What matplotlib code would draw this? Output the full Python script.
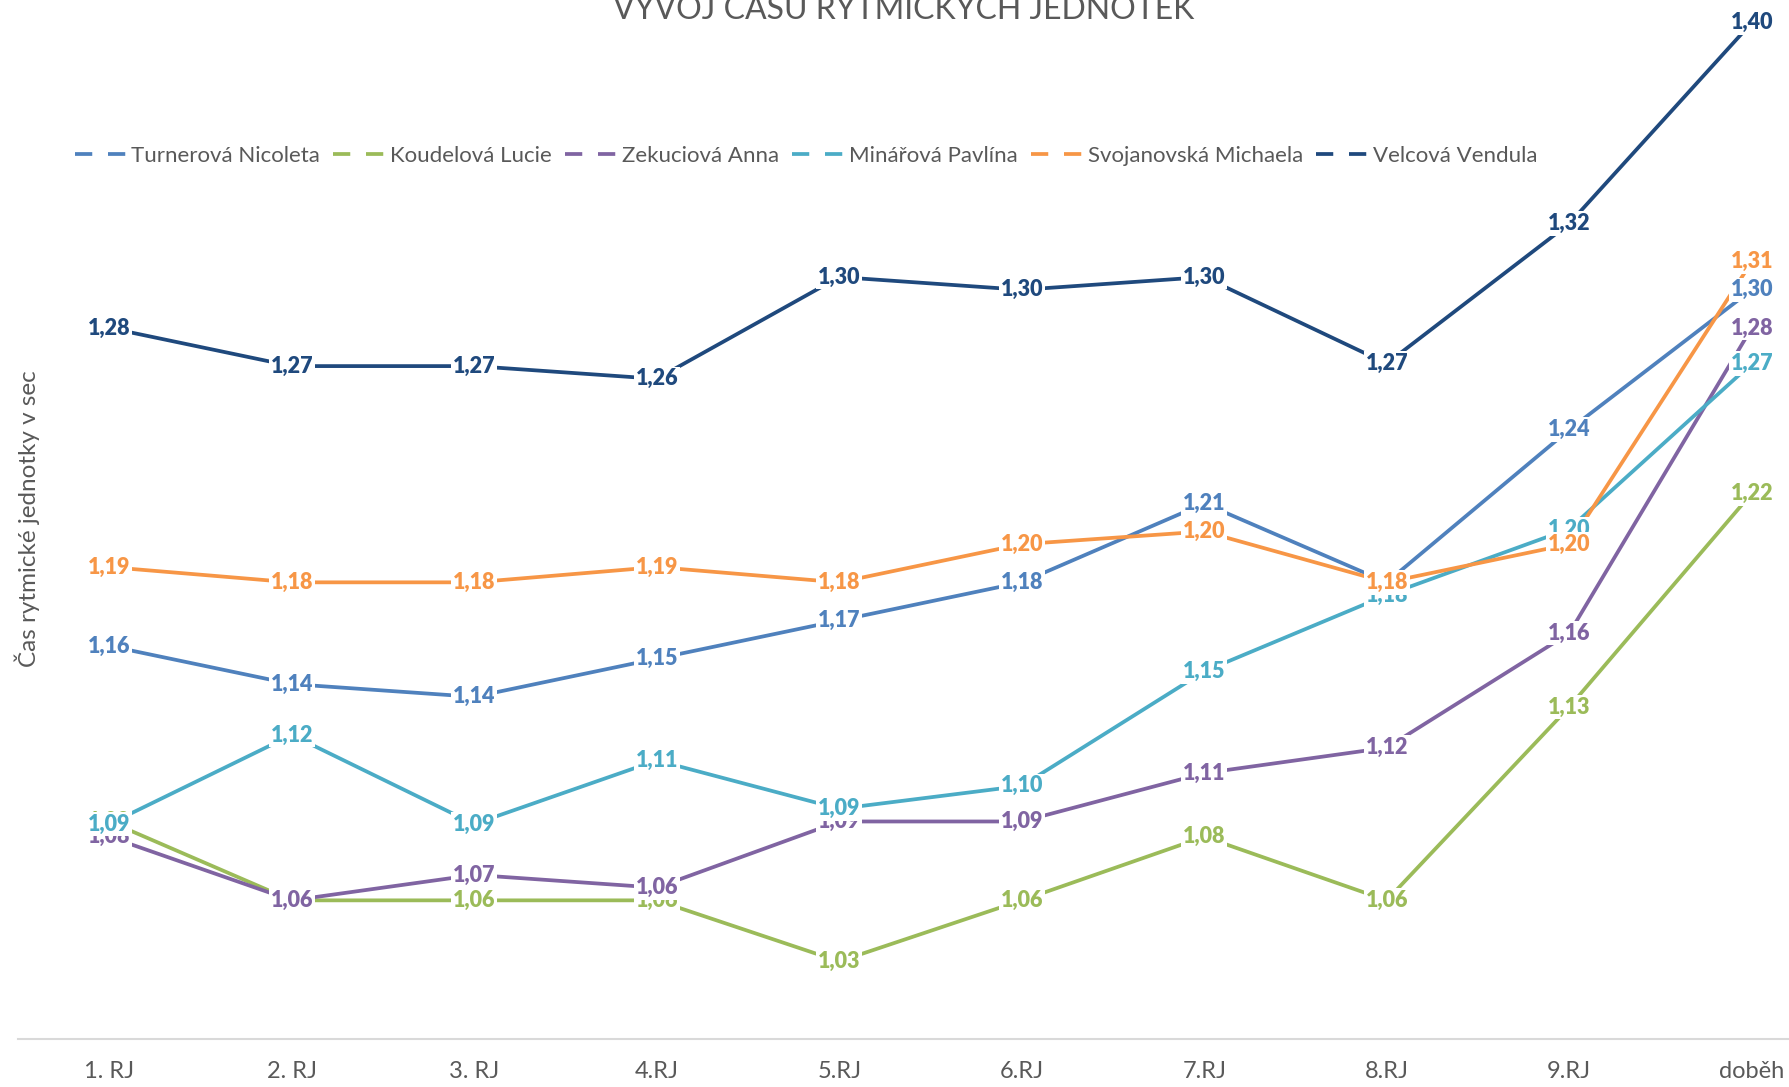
import matplotlib

matplotlib.use('Agg')
import matplotlib.pyplot as plt
from matplotlib.lines import Line2D

plt.rcParams['font.family'] = ['Lato', 'DejaVu Sans']

categories = ['1. RJ', '2. RJ', '3. RJ', '4.RJ', '5.RJ', '6.RJ', '7.RJ', '8.RJ', '9.RJ', 'doběh']

turnerova = [1.157, 1.142, 1.137, 1.152, 1.167, 1.182, 1.213, 1.182, 1.242, 1.297]
koudelova = [1.088, 1.057, 1.057, 1.057, 1.033, 1.057, 1.082, 1.057, 1.133, 1.217]
zekuciova = [1.082, 1.057, 1.067, 1.062, 1.088, 1.088, 1.107, 1.117, 1.162, 1.282]
minarova = [1.087, 1.122, 1.087, 1.112, 1.093, 1.102, 1.147, 1.177, 1.203, 1.268]
svojanovska = [1.188, 1.182, 1.182, 1.188, 1.182, 1.197, 1.202, 1.182, 1.197, 1.308]
velcova = [1.282, 1.267, 1.267, 1.262, 1.302, 1.297, 1.302, 1.268, 1.323, 1.402]

names = ['Turnerová Nicoleta', 'Koudelová Lucie', 'Zekuciová Anna',
         'Minářová Pavlína', 'Svojanovská Michaela', 'Velcová Vendula']
series = [turnerova, koudelova, zekuciova, minarova, svojanovska, velcova]
colors = ['#4F81BD', '#9BBB59', '#8064A2', '#4BACC6', '#F79646', '#1F497D']

W, H = 1789, 1087
fig = plt.figure(figsize=(W / 100, H / 100), dpi=100)
ax = fig.add_axes([18 / W, 48 / H, 1825 / W, 1039 / H])

x = list(range(len(categories)))
for i, (vals, col) in enumerate(zip(series, colors)):
    ax.plot(x, vals, color=col, lw=2.7, solid_capstyle='butt', zorder=2 + i * 0.01)

# data labels on top of every line, white box hides the line under the text
for i, (vals, col) in enumerate(zip(series, colors)):
    for xi, v in zip(x, vals):
        ax.text(xi, v, f'{v:.2f}'.replace('.', ','), color=col, fontsize=15.5,
                fontweight='heavy', ha='center', va='center', zorder=5 + i * 0.01,
                bbox=dict(boxstyle='square,pad=0.08', fc='white', ec='none'))

ax.set_xlim(-0.5, len(categories) - 0.5)
ax.set_ylim(1.0025, 1.4109)
ax.set_xticks(x)
ax.set_xticklabels(categories, fontsize=17, color='#595959')
ax.tick_params(axis='x', length=0, pad=16)
ax.set_yticks([])
for side in ('top', 'right', 'left'):
    ax.spines[side].set_visible(False)
ax.spines['bottom'].set_color('#D9D9D9')
ax.spines['bottom'].set_linewidth(1.5)

fig.text(27 / W, 1 - 519 / H, 'Čas rytmické jednotky v sec', rotation=90,
         fontsize=17.5, color='#595959', ha='center', va='center')

fig.text(904 / W, 1 - 19 / H, 'VÝVOJ ČASU RYTMICKÝCH JEDNOTEK', fontsize=23,
         color='#595959', ha='center', va='baseline')

handles = [Line2D([], [], color=c, lw=2.7, linestyle=(0, (4.6, 4.2))) for c in colors]
fig.legend(handles, names, loc='center', bbox_to_anchor=(806 / W, 1 - 156 / H),
           ncol=6, frameon=False, fontsize=16, labelcolor='#595959',
           handlelength=2.4, handletextpad=0.15, columnspacing=0.6)

fig.savefig('out.png', dpi=100)
